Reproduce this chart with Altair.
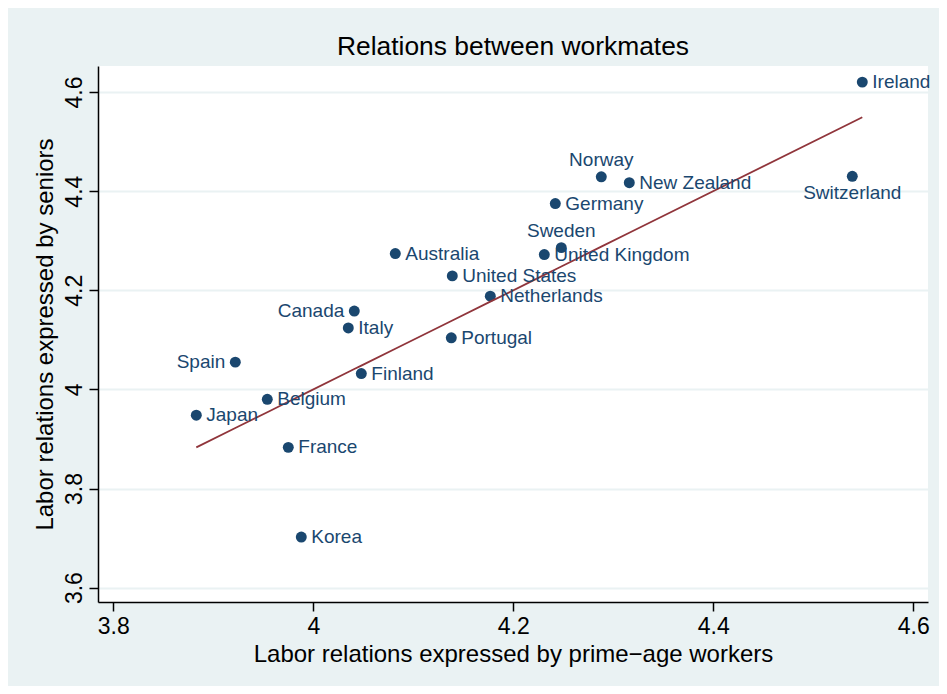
import altair as alt
import pandas as pd

countries = ["Ireland", "Switzerland", "Norway", "New Zealand", "Germany", "Sweden",
             "United Kingdom", "Australia", "United States", "Netherlands", "Canada",
             "Italy", "Portugal", "Spain", "Finland", "Belgium", "Japan", "France", "Korea"]
prime_age = [4.549, 4.539, 4.288, 4.316, 4.242, 4.248, 4.231, 4.082, 4.139, 4.177, 4.041,
             4.035, 4.138, 3.922, 4.048, 3.954, 3.883, 3.975, 3.988]
seniors = [4.620, 4.430, 4.429, 4.417, 4.375, 4.286, 4.272, 4.274, 4.229, 4.188, 4.158,
           4.124, 4.104, 4.055, 4.032, 3.980, 3.948, 3.883, 3.702]
tick_values = [3.6, 3.8, 4.0, 4.2, 4.4, 4.6]

# label placement (clock positions, style only); default is 3 o'clock
label_clock = {"Norway": 12, "Sweden": 12, "Switzerland": 6, "Canada": 9, "Spain": 9}

df = pd.DataFrame({"country": countries, "x": prime_age, "y": seniors})
df["pos"] = [label_clock.get(c, 3) for c in countries]

NAVY = "#1a476f"
RED = "#90353b"
BG = "#eaf2f3"
FONT = "Liberation Sans"

xscale = alt.Scale(domain=[3.7847, 4.6147], nice=False, zero=False)
yscale = alt.Scale(domain=[3.571, 4.6525], nice=False, zero=False)

xenc = alt.X("x:Q", scale=xscale,
             axis=alt.Axis(title="Labor relations expressed by prime\u2212age workers",
                           values=[3.8, 4.0, 4.2, 4.4, 4.6], format="~g", grid=False,
                           tickSize=9, labelPadding=4, titlePadding=4,
                           labelFontSize=23, titleFontSize=24, labelFont=FONT,
                           titleFont=FONT, labelColor="black", titleColor="black",
                           titleFontWeight="normal", domainColor="black", tickColor="black",
                           domainWidth=1.5, tickWidth=1.5))
yenc = alt.Y("y:Q", scale=yscale,
             axis=alt.Axis(title="Labor relations expressed by seniors",
                           values=tick_values, format="~g", grid=True, gridColor=BG,
                           gridWidth=2, tickSize=9, labelAngle=270, labelAlign="center",
                           labelBaseline="bottom", labelPadding=3, titlePadding=6,
                           labelFontSize=23, titleFontSize=24, labelFont=FONT,
                           titleFont=FONT, labelColor="black", titleColor="black",
                           titleFontWeight="normal", domainColor="black", tickColor="black",
                           domainWidth=1.5, tickWidth=1.5))

base = alt.Chart(df)

points = base.mark_circle(size=120, color=NAVY, opacity=1).encode(x=xenc, y=yenc)

# 45-degree reference line (y = x) across the range of the data
fit = base.transform_calculate(y="datum.x").mark_line(color=RED, strokeWidth=1.8).encode(
    x="x:Q", y="y:Q")

def labels(pos, **kw):
    return base.transform_filter(alt.datum.pos == pos).mark_text(
        font=FONT, fontSize=19, color=NAVY, **kw).encode(x="x:Q", y="y:Q", text="country:N")

lab3 = labels(3, align="left", baseline="middle", dx=10, dy=0)
lab9 = labels(9, align="right", baseline="middle", dx=-10, dy=0)
lab12 = labels(12, align="center", baseline="middle", dy=-17)
lab6 = labels(6, align="center", baseline="middle", dy=17)

chart = alt.layer(points, fit, lab3, lab9, lab12, lab6).properties(
    width=830, height=536,
    title=alt.TitleParams("Relations between workmates", font=FONT, fontSize=26.4,
                          fontWeight="normal", color="black", anchor="middle", offset=6),
    background=BG,
    autosize=alt.AutoSizeParams(type="none"),
    padding={"left": 90, "top": 58, "right": 11, "bottom": 84},
).configure_view(stroke=None, fill="white")

chart.save("out.html", embed_options={"renderer": "svg", "actions": False})
